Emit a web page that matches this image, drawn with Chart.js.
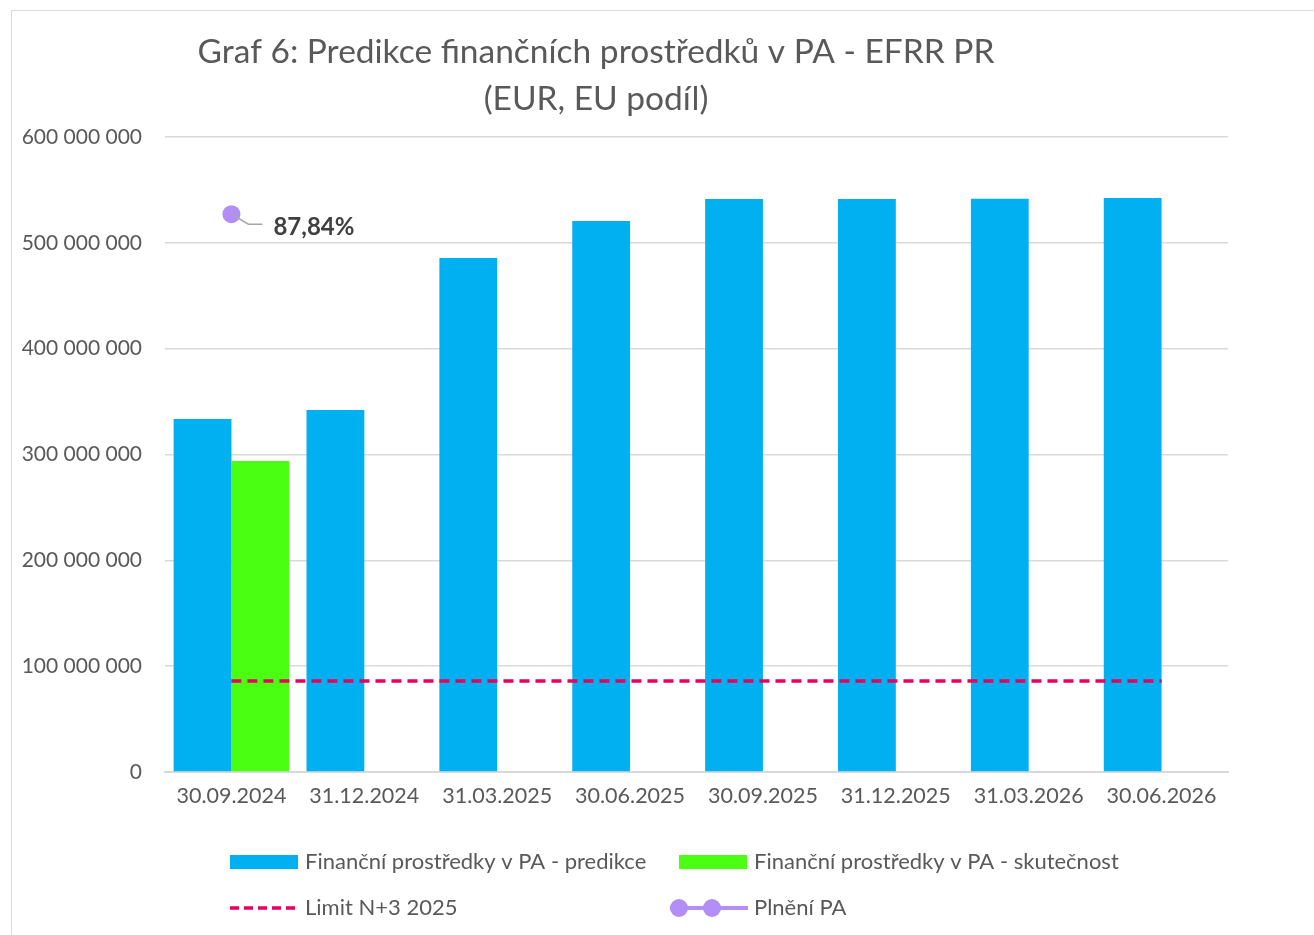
<!DOCTYPE html>
<html>
<head>
<meta charset="utf-8">
<script src="https://cdn.jsdelivr.net/npm/chart.js@4.4.1/dist/chart.umd.min.js"></script>
<style>
    body { margin: 0; background: #fff; }
    #wrap { position: relative; width: 1314px; height: 935px; }
    #frame { position: absolute; left: 11px; top: 10px; right: -5px; bottom: -5px; border: 1px solid #d9d9d9; }
    canvas { position: absolute; left: 0; top: 0; }
</style>
</head>
<body>
<div id="wrap">
    <div id="frame"></div>
    <canvas id="grafPA" width="1314" height="935"></canvas>
</div>
<script>
const kategorie = ['30.09.2024', '31.12.2024', '31.03.2025', '30.06.2025', '30.09.2025', '31.12.2025', '31.03.2026', '30.06.2026'];
const predikce = [333600000, 342100000, 485700000, 520600000, 541400000, 541400000, 541600000, 542400000];
const skutecnost = [293900000, null, null, null, null, null, null, null];
const limitN3 = [86000000, 86000000, 86000000, 86000000, 86000000, 86000000, 86000000, 86000000];
const plneni = [0.8784, null, null, null, null, null, null, null];
const titulek = ['Graf 6: Predikce finančních prostředků v PA - EFRR PR', '(EUR, EU podíl)'];

const FONT = 'Lato, "Liberation Sans", sans-serif';
const SEDA = '#595959';

function formatCislo(v) {
    return String(v).replace(/\B(?=(\d{3})+(?!\d))/g, ' ');
}

// titulek, popisek a legenda kreslene rucne (pozice jako v Excelu)
const dopln = {
    id: 'dopln',
    afterDraw(chart) {
        const ctx = chart.ctx;
        ctx.save();
        ctx.fillStyle = SEDA;
        ctx.textAlign = 'center';
        ctx.textBaseline = 'middle';
        ctx.font = '33.5px ' + FONT;
        ctx.fillText(titulek[0], 596, 52);
        ctx.fillText(titulek[1], 596, 99);

        // popisek bodu Plneni PA
        const bod = chart.getDatasetMeta(3).data[0];
        ctx.strokeStyle = '#a6a6a6';
        ctx.lineWidth = 1.5;
        ctx.beginPath();
        ctx.moveTo(bod.x, bod.y);
        ctx.lineTo(bod.x + 17, bod.y + 10);
        ctx.lineTo(bod.x + 31, bod.y + 10);
        ctx.stroke();
        ctx.fillStyle = '#404040';
        ctx.font = 'bold 24px ' + FONT;
        ctx.textAlign = 'left';
        ctx.fillText((plneni[0] * 100).toFixed(2).replace('.', ',') + '%', bod.x + 42, bod.y + 13);

        // legenda
        const ds = chart.data.datasets;
        ctx.font = '22px ' + FONT;
        ctx.fillStyle = SEDA;
        ctx.fillText(ds[0].label, 305, 862);
        ctx.fillText(ds[1].label, 754, 862);
        ctx.fillText(ds[2].label, 305, 908);
        ctx.fillText(ds[3].label, 754, 908);

        ctx.fillStyle = ds[0].backgroundColor;
        ctx.fillRect(230, 855, 68, 14);
        ctx.fillStyle = ds[1].backgroundColor;
        ctx.fillRect(679, 855, 68, 14);

        ctx.strokeStyle = ds[2].borderColor;
        ctx.lineWidth = 3.5;
        ctx.setLineDash([9, 5]);
        ctx.beginPath();
        ctx.moveTo(230, 908);
        ctx.lineTo(298, 908);
        ctx.stroke();
        ctx.setLineDash([]);

        ctx.strokeStyle = ds[3].borderColor;
        ctx.lineWidth = 4;
        ctx.beginPath();
        ctx.moveTo(670, 908);
        ctx.lineTo(748, 908);
        ctx.stroke();
        ctx.fillStyle = ds[3].backgroundColor;
        [679, 712].forEach(x => {
            ctx.beginPath();
            ctx.arc(x, 908, 9, 0, Math.PI * 2);
            ctx.fill();
        });
        ctx.restore();
    }
};

const graf = new Chart(document.getElementById('grafPA').getContext('2d'), {
    type: 'bar',
    data: {
        labels: kategorie,
        datasets: [
            {
                label: 'Finanční prostředky v PA - predikce',
                data: predikce,
                backgroundColor: '#00b0f0',
                order: 1
            },
            {
                label: 'Finanční prostředky v PA - skutečnost',
                data: skutecnost,
                backgroundColor: '#4bff12',
                order: 1
            },
            {
                type: 'line',
                label: 'Limit N+3 2025',
                data: limitN3,
                borderColor: '#e8005f',
                borderWidth: 3.5,
                borderDash: [10, 6],
                pointRadius: 0,
                fill: false,
                order: 0
            },
            {
                type: 'line',
                label: 'Plnění PA',
                data: plneni,
                yAxisID: 'y2',
                borderColor: '#b48ef7',
                backgroundColor: '#b48ef7',
                pointBackgroundColor: '#b48ef7',
                pointBorderWidth: 0,
                pointRadius: 9,
                order: 0
            }
        ]
    },
    options: {
        responsive: false,
        animation: false,
        layout: { padding: { top: 137, right: 86, left: 0, bottom: 0 } },
        datasets: { bar: { categoryPercentage: 0.87, barPercentage: 1 } },
        plugins: {
            legend: { display: false },
            title: { display: false },
            tooltip: { enabled: false }
        },
        scales: {
            x: {
                grid: { display: false, drawTicks: false },
                border: { color: '#d9d9d9', width: 2 },
                ticks: { color: SEDA, font: { family: FONT, size: 21.5 }, padding: 11, maxRotation: 0 },
                afterFit(scale) { scale.height = 163; }
            },
            y: {
                min: 0,
                max: 600000000,
                ticks: {
                    stepSize: 100000000,
                    color: SEDA,
                    padding: 23,
                    font: { family: FONT, size: 21 },
                    callback: v => formatCislo(v)
                },
                grid: { color: '#d9d9d9', lineWidth: 1.5, drawTicks: false },
                border: { display: false },
                afterFit(scale) { scale.width = 165; }
            },
            y2: {
                display: false,
                min: 0,
                max: 1
            }
        }
    },
    plugins: [dopln]
});
</script>
</body>
</html>
